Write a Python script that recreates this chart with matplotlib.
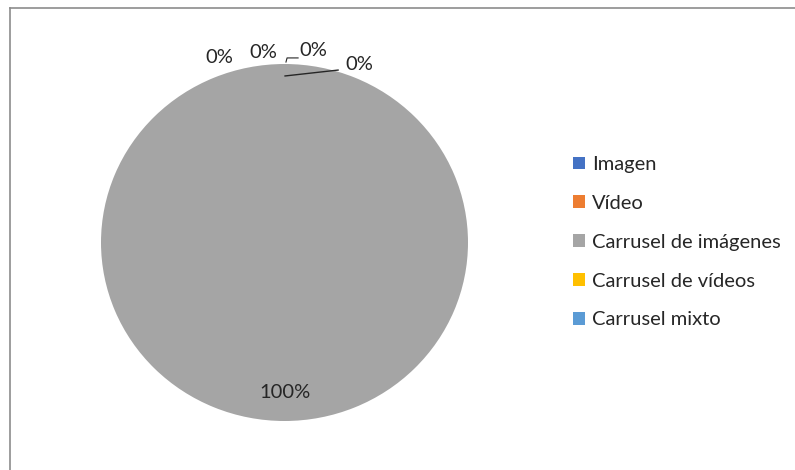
import matplotlib.pyplot as plt
from matplotlib.lines import Line2D

# formato de publicación
categorias = ['Imagen', 'Vídeo', 'Carrusel de imágenes', 'Carrusel de vídeos', 'Carrusel mixto']
valores = [0, 0, 100, 0, 0]
colores = ['#4472C4', '#ED7D31', '#A5A5A5', '#FFC000', '#5B9BD5']

# posiciones de las etiquetas de porcentaje (coordenadas del eje del pastel)
pos_etiquetas = [(-0.355, 1.035), (-0.115, 1.065), (0.158, 1.075), (0.408, 0.995), (0.005, -0.84)]
orden_etiquetas = [0, 1, 3, 4, 2]

plt.rcParams['font.family'] = ['Lato', 'DejaVu Sans']

W, H = 795, 470
fig = plt.figure(figsize=(W / 100, H / 100), dpi=100)

# pastel centrado en (284.5, 242.5) px
cx, cy, rx, ry = 284.5, 242.5, 183.5, 178.5
ax = fig.add_axes([(cx - rx) / W, (H - cy - ry) / H, 2 * rx / W, 2 * ry / H])
wedges, _ = ax.pie(valores, colors=colores, startangle=90, counterclock=False,
                   radius=1, wedgeprops=dict(linewidth=0))
ax.set_aspect('auto')
ax.set_xlim(-1, 1)
ax.set_ylim(-1, 1)
ax.axis('off')

total = sum(valores)
for i, (x, y) in zip(orden_etiquetas, pos_etiquetas):
    ax.text(x, y, f'{valores[i] / total:.0%}', ha='center', va='center',
            fontsize=14.5, color='#262626', clip_on=False)

# líneas guía
ax.plot([0.003, 0.292], [0.933, 0.966], color='#262626', lw=1, clip_on=False)
ax.plot([0.008, 0.014, 0.074], [1.011, 1.034, 1.034], color='#262626', lw=0.8, clip_on=False)

fig.legend(wedges, categorias, loc='upper left', bbox_to_anchor=(563 / W, 1 - 146 / H),
           frameon=False, fontsize=14.5, handlelength=0.6, handleheight=0.6,
           handletextpad=0.35, labelspacing=1.085, borderpad=0, labelcolor='#262626')

# marco del área del gráfico
fig.add_artist(Line2D([9.5 / W, 9.5 / W], [0, 1 - 7.5 / H], color='#8c8c8c', lw=1.2))
fig.add_artist(Line2D([9.5 / W, 1], [1 - 7.5 / H, 1 - 7.5 / H], color='#8c8c8c', lw=1.2))

fig.savefig('out.png', dpi=100)
